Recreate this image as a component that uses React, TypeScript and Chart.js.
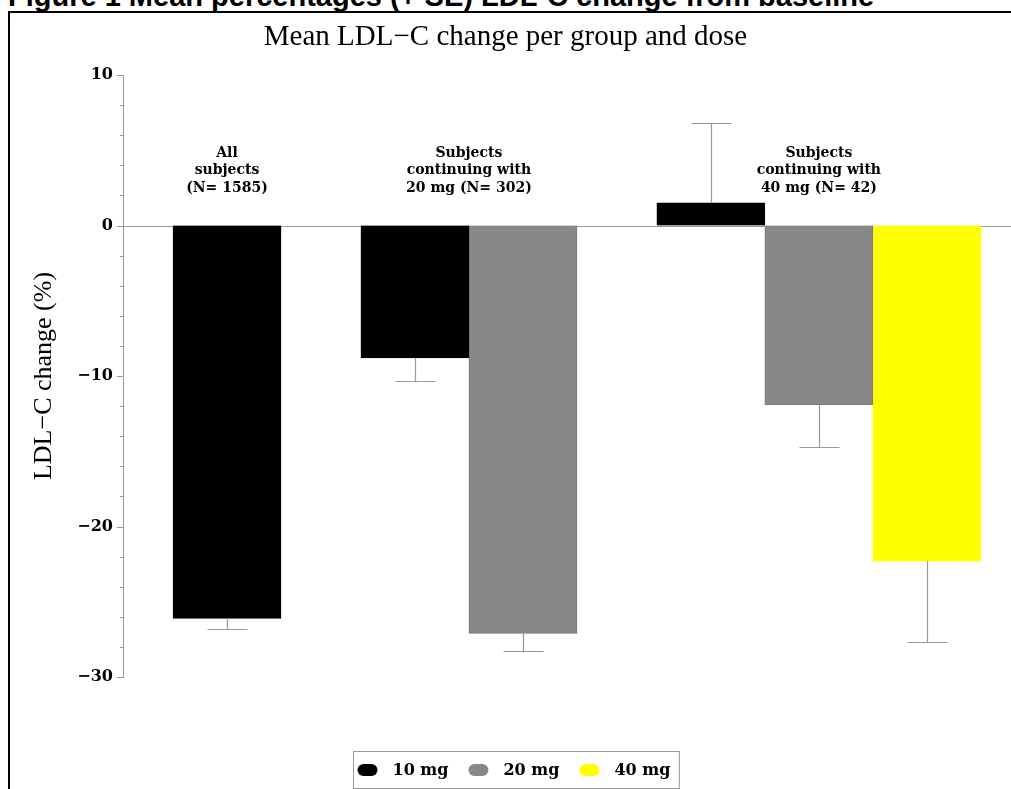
import React, { useEffect, useRef } from "react";
import { Chart, registerables } from "chart.js";

Chart.register(...registerables);

// ---- data ----
const groupLabels: string[][] = [
  ["All", "subjects", "(N= 1585)"],
  ["Subjects", "continuing with", "20 mg (N= 302)"],
  ["Subjects", "continuing with", "40 mg (N= 42)"],
];
const doseLabels = ["10 mg", "20 mg", "40 mg"];
const mean10: (number | null)[] = [-26.1, -8.8, 1.5];
const mean20: (number | null)[] = [null, -27.1, -11.9];
const mean40: (number | null)[] = [null, null, -22.3];
const se10: (number | null)[] = [0.7, 1.5, 5.3];
const se20: (number | null)[] = [null, 1.2, 2.8];
const se40: (number | null)[] = [null, null, 5.4];
const yTickLabels = [10, 0, -10, -20, -30];

// ---- styles ----
const doseColors = ["#000000", "#888888", "#ffff00"];
const doseBorders = ["#000000", "#7a7a7a", "#ffff00"];
const GROUP_GAP = 0.74; // gap between groups, in bar widths
const SERIF = '"Liberation Serif", "Times New Roman", serif';
const WIDE_SERIF = '"DejaVu Serif", serif';

const seriesMeans = [mean10, mean20, mean40];
const seriesSE = [se10, se20, se40];

// bars of one group are adjacent, groups separated by a gap
const slotX: (number | null)[][] = seriesMeans.map(() => []);
const groupCenters: number[] = [];
{
  let cursor = 0;
  groupLabels.forEach((_, gi) => {
    const start = cursor;
    seriesMeans.forEach((s, si) => {
      if (s[gi] != null) {
        slotX[si][gi] = cursor;
        cursor += 1;
      } else slotX[si][gi] = null;
    });
    groupCenters.push((start + cursor - 1) / 2);
    cursor += GROUP_GAP;
  });
}

const fmt = (v: number) => (v < 0 ? "\u2212" + Math.abs(v) : String(v));

const decor = {
  id: "decor",
  beforeDatasetsDraw(chart: any) {
    const { ctx, chartArea: a, scales } = chart;
    const y = scales.y;
    const y0 = Math.round(y.getPixelForValue(0)) + 0.5;
    ctx.save();
    ctx.strokeStyle = "#999";
    ctx.lineWidth = 1;
    ctx.beginPath();
    ctx.moveTo(a.left, y0);
    ctx.lineTo(a.right, y0);
    ctx.stroke();
    ctx.restore();
  },
  afterDatasetsDraw(chart: any) {
    const { ctx, chartArea: a, scales } = chart;
    const y = scales.y;
    const x = scales.x;
    ctx.save();
    // error bars
    ctx.strokeStyle = "#999";
    ctx.lineWidth = 1.2;
    chart.data.datasets.forEach((ds: any, di: number) => {
      const meta = chart.getDatasetMeta(di);
      meta.data.forEach((bar: any, i: number) => {
        const d = ds.data[i];
        const se = ds.se[i];
        const dir = d.y >= 0 ? 1 : -1;
        const yEnd = Math.round(y.getPixelForValue(d.y + dir * se)) + 0.5;
        const bx = Math.round(bar.x) + 0.5;
        ctx.beginPath();
        ctx.moveTo(bx, bar.y);
        ctx.lineTo(bx, yEnd);
        ctx.moveTo(bx - 20, yEnd);
        ctx.lineTo(bx + 20, yEnd);
        ctx.stroke();
      });
    });
    // group labels
    const y0 = y.getPixelForValue(0);
    ctx.fillStyle = "#000";
    ctx.font = `bold 14px ${WIDE_SERIF}`;
    ctx.textAlign = "center";
    ctx.textBaseline = "middle";
    groupLabels.forEach((lines, gi) => {
      const cx = x.getPixelForValue(groupCenters[gi]);
      lines.forEach((t, li) => {
        ctx.fillText(t, cx, y0 - 72.5 + li * 17.5);
      });
    });
    // y tick marks (major / minor)
    ctx.strokeStyle = "#999";
    ctx.lineWidth = 1;
    y.ticks.forEach((t: any) => {
      const py = Math.round(y.getPixelForValue(t.value)) + 0.5;
      const len = Math.round(t.value) % 10 === 0 ? 6 : 3;
      ctx.beginPath();
      ctx.moveTo(a.left - len, py);
      ctx.lineTo(a.left, py);
      ctx.stroke();
    });
    // legend
    ctx.font = `bold 16px ${WIDE_SERIF}`;
    ctx.textAlign = "left";
    const widths = doseLabels.map((l) => ctx.measureText(l).width);
    const padL = 4, padR = 9, pillW = 20, pillH = 12, gapPT = 15, gapItem = 20;
    const total = padL + padR + widths.reduce((s, w) => s + w + pillW + gapPT, 0) + gapItem * (doseLabels.length - 1);
    const left = Math.round(chart.width / 2 + 10 - total / 2) + 0.5;
    const top = Math.round(a.bottom + 74) + 0.5;
    const h = 37;
    ctx.strokeStyle = "#999";
    ctx.strokeRect(left, top, total, h);
    const cy = top + h / 2;
    let cx = left + padL;
    doseLabels.forEach((l, i) => {
      ctx.fillStyle = doseColors[i];
      ctx.beginPath();
      const r = pillH / 2;
      ctx.moveTo(cx + r, cy - r);
      ctx.lineTo(cx + pillW - r, cy - r);
      ctx.arc(cx + pillW - r, cy, r, -Math.PI / 2, Math.PI / 2);
      ctx.lineTo(cx + r, cy + r);
      ctx.arc(cx + r, cy, r, Math.PI / 2, (3 * Math.PI) / 2);
      ctx.closePath();
      ctx.fill();
      cx += pillW + gapPT;
      ctx.fillStyle = "#000";
      ctx.fillText(l, cx, cy + 1);
      cx += widths[i] + gapItem;
    });
    ctx.restore();
  },
};

export default function App() {
  const ref = useRef<HTMLCanvasElement | null>(null);
  useEffect(() => {
    if (!ref.current) return;
    const datasets = doseLabels.map((label, si) => {
      const data: { x: number; y: number }[] = [];
      const se: number[] = [];
      groupLabels.forEach((_, gi) => {
        const v = seriesMeans[si][gi];
        const px = slotX[si][gi];
        if (v != null && px != null) {
          data.push({ x: px, y: v });
          se.push(seriesSE[si][gi] as number);
        }
      });
      return {
        label,
        data,
        se,
        backgroundColor: doseColors[si],
        borderColor: doseBorders[si],
        borderWidth: 1,
        grouped: false,
        barPercentage: 1,
        categoryPercentage: 1,
      } as any;
    });
    const chart = new Chart(ref.current, {
      type: "bar",
      data: { datasets },
      options: {
        responsive: false,
        animation: false,
        layout: { padding: { left: 0, right: 0, top: 0, bottom: 112 } },
        plugins: {
          legend: { display: false },
          tooltip: { enabled: false },
          title: {
            display: true,
            text: "Mean LDL\u2212C change per group and dose",
            color: "#000",
            font: { family: SERIF, size: 29, weight: "normal" },
            padding: { top: 20, bottom: 20.2 },
          },
        },
        scales: {
          x: {
            type: "linear",
            min: -0.963,
            max: 7.259,
            display: false,
            afterBuildTicks: (s: any) => {
              s.ticks = [];
            },
          },
          y: {
            min: -30,
            max: 10,
            afterFit: (s: any) => {
              s.width = 123;
            },
            ticks: {
              stepSize: 2,
              autoSkip: false,
              padding: 10,
              color: "#000",
              font: { family: WIDE_SERIF, size: 16, weight: "bold" },
              callback: (v: any) => (yTickLabels.includes(Math.round(v)) && Math.abs(v - Math.round(v)) < 1e-6 ? fmt(Math.round(v)) : ""),
            },
            grid: { display: false, drawTicks: false },
            border: { display: true, color: "#999", width: 1 },
            title: {
              display: true,
              text: "LDL\u2212C change (%)",
              color: "#000",
              font: { family: SERIF, size: 26, weight: "normal" },
              padding: { top: 29, bottom: 0 },
            },
          },
        },
      } as any,
      plugins: [decor],
    });
    return () => chart.destroy();
  }, []);

  return (
    <div
      style={{
        position: "fixed",
        left: 0,
        top: 0,
        width: 1011,
        height: 789,
        overflow: "hidden",
        background: "#fff",
      }}
    >
      <div
        style={{
          position: "absolute",
          left: 8,
          top: -18.5,
          font: 'bold 29px "Liberation Sans", Arial, sans-serif',
          lineHeight: "29px",
          whiteSpace: "nowrap",
          color: "#000",
        }}
      >
        Figure 1 Mean percentages (+ SE) LDL-C change from baseline
      </div>
      <div
        style={{
          position: "absolute",
          left: 8,
          top: 11,
          width: 1100,
          height: 900,
          borderTop: "2px solid #000",
          borderLeft: "2px solid #000",
        }}
      />
      <canvas ref={ref} width={1011} height={789} style={{ position: "absolute", left: 0, top: 0 }} />
    </div>
  );
}
